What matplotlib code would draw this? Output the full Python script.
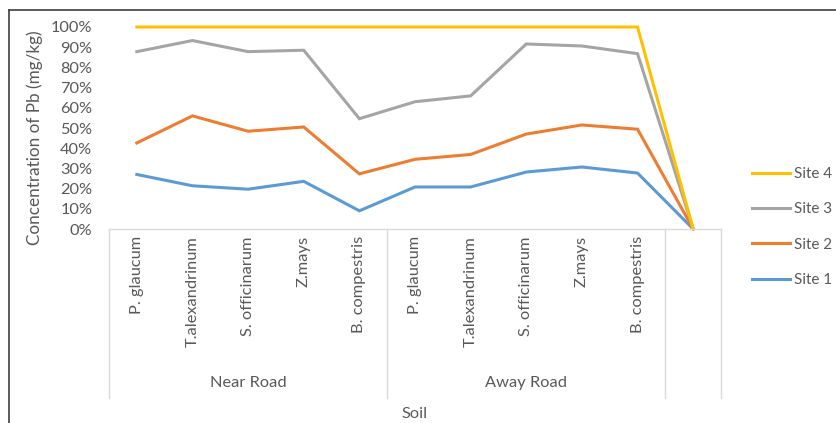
import numpy as np
import matplotlib
matplotlib.use("Agg")
import matplotlib.pyplot as plt
from matplotlib.lines import Line2D

plt.rcParams['font.family'] = ['Lato', 'DejaVu Sans']

# plants for each soil group, last slot left empty (all sites drop to 0)
plants = ['P. glaucum', 'T.alexandrinum', 'S. officinarum', 'Z.mays', 'B. compestris',
          'P. glaucum', 'T.alexandrinum', 'S. officinarum', 'Z.mays', 'B. compestris', '']
groups = ['Near Road', 'Away Road']

# share of each site (%)
site1 = [27.0, 21.4, 19.7, 23.6, 9.0, 20.8, 20.8, 28.2, 30.7, 27.7, 0]
site2 = [15.6, 34.6, 28.7, 26.9, 18.3, 13.7, 16.1, 18.8, 20.8, 21.7, 0]
site3 = [45.2, 37.3, 39.4, 38.0, 27.3, 28.5, 29.0, 44.6, 39.1, 37.4, 0]
site4 = [12.2, 6.7, 12.2, 11.5, 45.4, 37.0, 34.1, 8.4, 9.4, 13.2, 0]

sites = {'Site 1': site1, 'Site 2': site2, 'Site 3': site3, 'Site 4': site4}
colors = {'Site 1': '#5B9BD5', 'Site 2': '#ED7D31', 'Site 3': '#A5A5A5', 'Site 4': '#FFC000'}
txt = '#595959'
grid = '#D9D9D9'
fs = 11.8

W, H = 836, 423
fig = plt.figure(figsize=(W / 100, H / 100), dpi=100)
ax = fig.add_axes([109 / W, (H - 229) / H, 612 / W, 202 / H])

x = np.arange(len(plants))
total = np.zeros(len(plants))
for name, vals in sites.items():
    total = total + np.array(vals) / 100
    ax.plot(x, total, color=colors[name], lw=2.2, label=name, clip_on=False,
            solid_joinstyle='miter')

ax.set_xlim(-0.5, len(plants) - 0.5)
ax.set_ylim(0, 1)
ax.set_yticks(np.arange(0, 1.01, 0.1))
ax.set_yticklabels([f'{int(round(v * 100))}%' for v in np.arange(0, 1.01, 0.1)])
ax.tick_params(axis='y', length=0, pad=12, labelsize=fs, labelcolor=txt)
ax.set_xticks([])
for s in ['top', 'right', 'left']:
    ax.spines[s].set_visible(False)
ax.spines['bottom'].set_color(grid)
ax.spines['bottom'].set_linewidth(1)

tr = ax.get_xaxis_transform()
for i, p in enumerate(plants):
    ax.text(i, -7 / 202, p, rotation=90, ha='center', va='top', transform=tr,
            fontsize=fs, color=txt)
for j, g in enumerate(groups):
    ax.text(j * 5 + 2, -154 / 202, g, ha='center', va='center', transform=tr,
            fontsize=fs, color=txt)
for b in [-0.5, 4.5, 9.5, 10.5]:
    ax.plot([b, b], [0, -169 / 202], color=grid, lw=1, transform=tr, clip_on=False)

fig.text(415 / W, (H - 414) / H, 'Soil', ha='center', va='center', fontsize=fs, color=txt)
fig.text(35 / W, (H - 138) / H, 'Concentration of Pb (mg/kg)', rotation=90,
         ha='center', va='center', fontsize=12.3, color=txt)

handles, labels = ax.get_legend_handles_labels()
fig.legend(handles[::-1], labels[::-1], loc='center left',
           bbox_to_anchor=(752 / W, (H - 227) / H), frameon=False,
           borderpad=0, borderaxespad=0, handlelength=2.5, handletextpad=0.25,
           labelspacing=1.4, fontsize=11, labelcolor=txt)

fig.add_artist(Line2D([9 / W, 1], [(H - 10) / H] * 2, color='#404040', lw=1.2))
fig.add_artist(Line2D([9 / W] * 2, [0, (H - 10) / H], color='#404040', lw=1.2))

fig.savefig('out.png', dpi=100)
